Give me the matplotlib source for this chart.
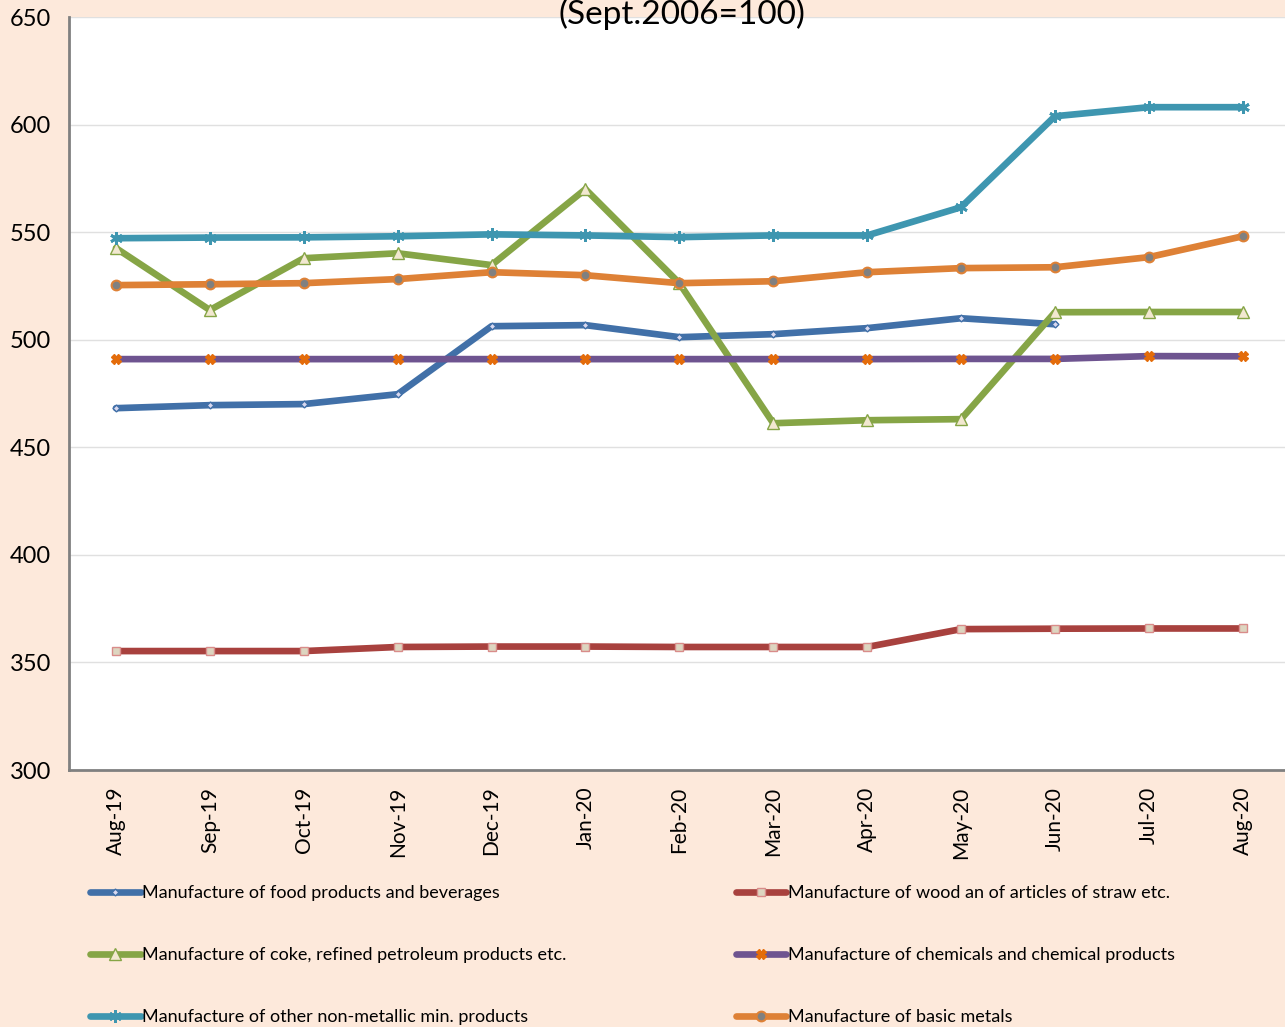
import matplotlib.pyplot as plt
import matplotlib as mpl

months = ["Aug-19", "Sep-19", "Oct-19", "Nov-19", "Dec-19", "Jan-20", "Feb-20",
          "Mar-20", "Apr-20", "May-20", "Jun-20", "Jul-20", "Aug-20"]

food = [468.2, 469.6, 470.1, 474.7, 506.3, 506.8, 501.2, 502.6, 505.4, 510.0, 507.2, None, None]
wood = [355.3, 355.3, 355.3, 357.2, 357.4, 357.4, 357.2, 357.2, 357.2, 365.5, 365.7, 365.8, 365.8]
coke = [542.6, 513.8, 537.9, 540.2, 534.7, 570.0, 526.3, 461.2, 462.6, 463.1, 512.8, 512.9, 512.9]
chemicals = [491.0, 491.0, 491.0, 491.0, 491.0, 491.0, 491.0, 491.0, 491.0, 491.1, 491.1, 492.4, 492.3]
nonmetal = [547.2, 547.5, 547.6, 548.1, 549.0, 548.5, 547.7, 548.5, 548.5, 561.6, 603.9, 608.1, 608.1]
metals = [525.4, 525.8, 526.3, 528.2, 531.4, 530.0, 526.3, 527.2, 531.4, 533.3, 533.7, 538.4, 548.1]

labels = ["Manufacture of food products and beverages",
          "Manufacture of wood an of articles of straw etc.",
          "Manufacture of coke, refined petroleum products etc.",
          "Manufacture of chemicals and chemical products",
          "Manufacture of other non-metallic min. products",
          "Manufacture of basic metals"]

mpl.rc("font", family=["Lato", "DejaVu Sans"])
bg = "#FDE9DB"

fig = plt.figure(figsize=(12.85, 10.27), dpi=100, facecolor=bg)
ax = fig.add_axes([0.0537, 0.2502, 0.9463, 0.7332])
ax.set_facecolor("white")

x = list(range(len(months)))
lw = 4.8
series = [
    (food, "#4170A8", dict(marker="D", ms=3.5, mfc="#D9D9F0", mec="#4170A8")),
    (wood, "#A8413E", dict(marker="s", ms=6, mfc="#DDD5C0", mec="#D98C8A")),
    (coke, "#86A546", dict(marker="^", ms=8, mfc="#F2E8D0", mec="#86A546")),
    (chemicals, "#6E5490", dict(marker="X", ms=7, mfc="#E46C0A", mec="#E46C0A")),
    (nonmetal, "#3E96B0", dict(marker=(6, 2, 0), ms=9, mfc="#3E96B0", mec="#3E96B0", mew=2)),
    (metals, "#DE8136", dict(marker="o", ms=7, mfc="#808080", mec="#DE8136", mew=1.5)),
]
handles = []
for (vals, col, mk), lab in zip(series, labels):
    xs = [i for i, v in zip(x, vals) if v is not None]
    ys = [v for v in vals if v is not None]
    h, = ax.plot(xs, ys, color=col, lw=lw, solid_capstyle="round",
                 solid_joinstyle="round", label=lab, **mk)
    handles.append(h)

ax.set_xlim(-0.5, 12.45)
ax.set_ylim(300, 650)
ax.set_yticks(range(300, 651, 50))
ax.set_xticks(x)
ax.set_xticklabels(months, rotation=90)
ax.tick_params(axis="y", length=0, pad=13, labelsize=17)
ax.tick_params(axis="x", length=0, pad=12, labelsize=15)
ax.grid(axis="y", color="#E0E0E0", lw=1)
ax.set_axisbelow(True)
for s in ["top", "right"]:
    ax.spines[s].set_visible(False)
for s in ["left", "bottom"]:
    ax.spines[s].set_color("#808080")
    ax.spines[s].set_linewidth(2)

fig.text(0.531, 1 - 24 / 1027, "(Sept.2006=100)", ha="center", va="baseline",
         fontsize=24)

order = [0, 2, 4, 1, 3, 5]
leg = fig.legend([handles[i] for i in order], [labels[i] for i in order],
                 ncol=2, loc="upper left", bbox_to_anchor=(0.07, 1 - 885 / 1027),
                 frameon=False, fontsize=13, handlelength=2.8, handletextpad=0.1,
                 labelspacing=2.55, columnspacing=9.35, borderaxespad=0, borderpad=0)

fig.savefig("out.png", dpi=100, facecolor=bg)
